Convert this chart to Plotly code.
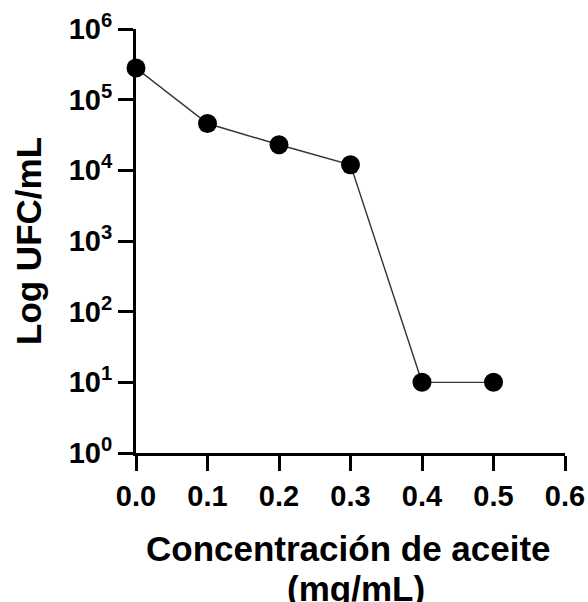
import plotly.graph_objects as go

conc = [0.0, 0.1, 0.2, 0.3, 0.4, 0.5]
ufc = [2.8e5, 4.6e4, 2.3e4, 1.2e4, 10, 10]
err = [0, 0, 3000, 2500, 0, 0]

y_tickvals = [1, 10, 100, 1e3, 1e4, 1e5, 1e6]
y_ticktext = ["10<sup>0</sup>", "10<sup>1</sup>", "10<sup>2</sup>", "10<sup>3</sup>",
              "10<sup>4</sup>", "10<sup>5</sup>", "10<sup>6</sup>"]
x_tickvals = [0.0, 0.1, 0.2, 0.3, 0.4, 0.5, 0.6]
x_ticktext = ["0.0", "0.1", "0.2", "0.3", "0.4", "0.5", "0.6"]
x_title_lines = ["Concentración de aceite", "(mg/mL)"]
y_title = "Log UFC/mL"

FAM = "Liberation Sans, Arial"

fig = go.Figure()
fig.add_trace(go.Scatter(
    x=conc, y=ufc, mode="lines+markers",
    line=dict(color="#333333", width=1.4),
    marker=dict(color="black", size=19),
    error_y=dict(type="data", array=err, visible=True, color="black", thickness=1.5, width=6),
    showlegend=False, cliponaxis=False,
))

tickfont = dict(family=FAM, size=29, color="black", weight="bold")
fig.update_layout(
    width=588, height=602,
    margin=dict(l=136, r=23, t=29, b=149, autoexpand=False),
    paper_bgcolor="white", plot_bgcolor="white",
    xaxis=dict(
        range=[0, 0.6], tickvals=x_tickvals, ticktext=x_ticktext,
        showline=True, linecolor="black", linewidth=3,
        ticks="outside", ticklen=15, tickwidth=3, tickcolor="black",
        showgrid=False, zeroline=False, tickfont=tickfont, automargin=False,
    ),
    yaxis=dict(
        type="log", range=[0, 6], tickvals=y_tickvals, ticktext=y_ticktext,
        showline=True, linecolor="black", linewidth=3,
        ticks="outside", ticklen=15, tickwidth=3, tickcolor="black",
        showgrid=False, zeroline=False, tickfont=tickfont, automargin=False,
    ),
)
title_font = dict(family=FAM, size=35, color="black", weight="bold")
fig.add_annotation(text=y_title, xref="paper", yref="paper", x=0, y=0.5,
                   xshift=-108, xanchor="center", yanchor="middle", textangle=-90,
                   showarrow=False, font=title_font)
fig.add_annotation(text=x_title_lines[0], xref="paper", yref="paper", x=0.5, y=0,
                   yshift=-95, xshift=-2, yanchor="middle", showarrow=False, font=title_font)
fig.add_annotation(text=x_title_lines[1], xref="paper", yref="paper", x=0.5, y=0,
                   yshift=-135, xshift=5, yanchor="middle", showarrow=False, font=title_font)
fig.write_html("out.html")
